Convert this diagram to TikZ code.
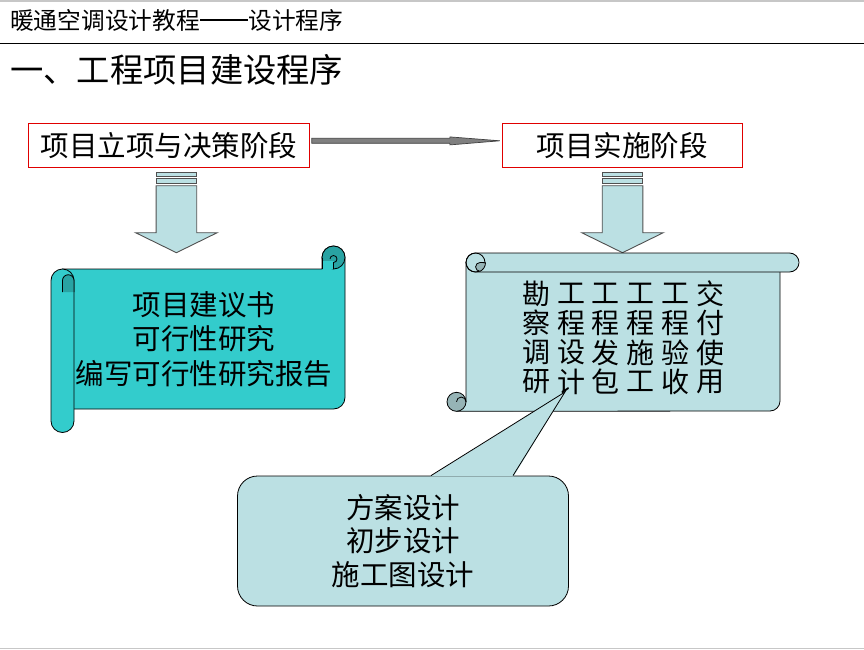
\documentclass[tikz,border=0pt]{standalone}
\usepackage{fontspec}
\setmainfont{Noto Sans CJK SC}
\usepackage{tikz}
\usetikzlibrary{positioning, calc}

\definecolor{scrollteal}{HTML}{33CCCC}
\definecolor{curlteal}{HTML}{29A3A3}
\definecolor{paleblue}{HTML}{BBE0E3}
\definecolor{curlgray}{HTML}{96B4B6}
\definecolor{boxred}{HTML}{E00000}
\definecolor{edgegray}{HTML}{505050}
\definecolor{linkgray}{HTML}{808080}

\tikzset{
  edgeline/.style={draw=black, line width=0.8pt},
  rulegray/.style={draw=black!22, line width=1.5pt},
  stagebox/.style={draw=boxred, line width=0.9pt, fill=white, minimum height=44pt,
    inner sep=0pt, font=\fontsize{28.5}{34}\selectfont},
  linkarrow/.style={draw=black!75, line width=0.7pt, fill=linkgray},
  blockfill/.style={draw=edgegray, line width=0.9pt, fill=paleblue},
  scrollA/.style={edgeline, fill=scrollteal},
  scrollB/.style={edgeline, fill=paleblue},
  scrolltext/.style={inner sep=0pt, align=center, font=\fontsize{28.5}{34.5}\selectfont},
  gridchar/.style={inner sep=0pt, font=\fontsize{28}{30}\selectfont},
  calloutbox/.style={edgeline, fill=paleblue, rounded corners=20pt, minimum width=331pt,
    minimum height=130pt, align=center, font=\fontsize{28.5}{33.5}\selectfont}
}

% block arrow pointing down, centred at x = #1
\newcommand{\blockdown}[1]{%
  \begin{scope}[shift={(#1,0)}]
    \draw[blockfill] (-20.3,172.7) rectangle (20.3,176);
    \draw[blockfill] (-20.3,178) rectangle (20.3,183.3);
    \draw[blockfill] (-20.3,185.7) -- (20.3,185.7) -- (20.3,232.7) -- (40.8,232.7)
      -- (0,252.7) -- (-40.8,232.7) -- (-20.3,232.7) -- cycle;
  \end{scope}}

\begin{document}
\begin{tikzpicture}[x=1pt, y=-1pt]
\useasboundingbox (0,0) rectangle (864,650);

% Page rules
\draw[rulegray] (0,0.8) -- (864,0.8);
\draw[line width=1pt] (0,43.5) -- (864,43.5);
\draw[rulegray] (0,648.5) -- (864,648.5);

% Titles
\node[anchor=west, inner sep=0pt, font=\fontsize{23.7}{26}\selectfont] (head) at (10,20)
  {暖通空调设计教程\rule[0.34em]{2.05em}{0.1em}设计程序};
\node[anchor=west, inner sep=0pt, font=\fontsize{33.3}{36}\selectfont] (title) at (10,70) {一、工程项目建设程序};

% Stage boxes
\node[stagebox, minimum width=281pt] (pA) at (168.8,145.3) {项目立项与决策阶段};
\node[stagebox, minimum width=240pt] (pB) at (622.3,145.3) {项目实施阶段};

% Link arrow between the stages
\draw[linkarrow] ($(pA.east)+(2,-7)$) -- ($(pB.west)+(-52,-7)$) -- ($(pB.west)+(-52,-8.4)$)
  -- ($(pB.west)+(-2,-4.5)$) -- ($(pB.west)+(-52,-0.4)$) -- ($(pB.west)+(-52,-2)$)
  -- ($(pA.east)+(2,-2)$) -- cycle;

% Down arrows
\blockdown{176.4}
\blockdown{622.5}

% Scroll A (vertical scroll)
\draw[scrollA] (62.5,269) -- (322,269) -- (322,257.5) arc[start angle=180, end angle=360, radius=11.5]
  -- (345,397.5) arc[start angle=0, end angle=90, radius=11.5] -- (62.5,409) -- cycle;
\draw[edgeline, fill=curlteal] (333.5,257.5) circle[radius=11.5];
\fill[scrollteal] (322.4,261) rectangle (333.5,268.6);
\draw[edgeline] (322,257.5) -- (322,269);
\draw[edgeline] (333.5,269) -- (333.5,262.5) arc[start angle=90, end angle=-180, radius=3.5];
\draw[scrollA] (51,280.5) arc[start angle=180, end angle=360, radius=11.5]
  -- (74,421) arc[start angle=0, end angle=180, radius=11.5] -- cycle;
\draw[edgeline, fill=curlteal] (62.5,292) -- (62.5,280.5) arc[start angle=180, end angle=360, radius=5.75] -- (74,292);
\node[scrolltext] (sA) at (204,339) {项目建议书\\可行性研究\\编写可行性研究报告};

% Scroll B (horizontal scroll)
\draw[scrollB] (466,262) -- (780,262) -- (780,401) arc[start angle=0, end angle=90, radius=10]
  -- (456.5,411.3) -- (456.5,401.8) -- (466,401.8) -- cycle;
\draw[scrollB, rounded corners=9.5pt] (466,253) rectangle (799,272);
\draw[edgeline] (475.5,262.5) circle[radius=9.5];
\draw[edgeline, fill=curlgray] (480,262.5) arc[start angle=270, end angle=90, radius=4.4]
  arc[start angle=65, end angle=0, radius=9.5] -- cycle;
\draw[edgeline, fill=curlgray] (456.5,401.8) circle[radius=9.5];
\draw[edgeline] (456.5,401.8) arc[start angle=180, end angle=360, radius=4.75];
\foreach \a/\b/\c/\d [count=\i] in {勘/察/调/研,工/程/设/计,工/程/发/包,工/程/施/工,工/程/验/收,交/付/使/用}{
  \node[gridchar] (g\i-1) at ({536.5+34.7*(\i-1)},293.5) {\a};
  \node[gridchar] (g\i-2) at ({536.5+34.7*(\i-1)},323) {\b};
  \node[gridchar] (g\i-3) at ({536.5+34.7*(\i-1)},352.5) {\c};
  \node[gridchar] (g\i-4) at ({536.5+34.7*(\i-1)},381.5) {\d};
}

% Callout
\coordinate (tip) at (565,392);
\node[calloutbox] (cC) at (403,541) {方案设计\\初步设计\\施工图设计};
\fill[paleblue] ($(cC.north)+(27.5,0.8)$) -- (tip) -- ($(cC.north)+(110.5,0.8)$) -- cycle;
\draw[edgeline, line join=miter] ($(cC.north)+(28,0)$) -- (tip) -- ($(cC.north)+(110,0)$);

\end{tikzpicture}
\end{document}
